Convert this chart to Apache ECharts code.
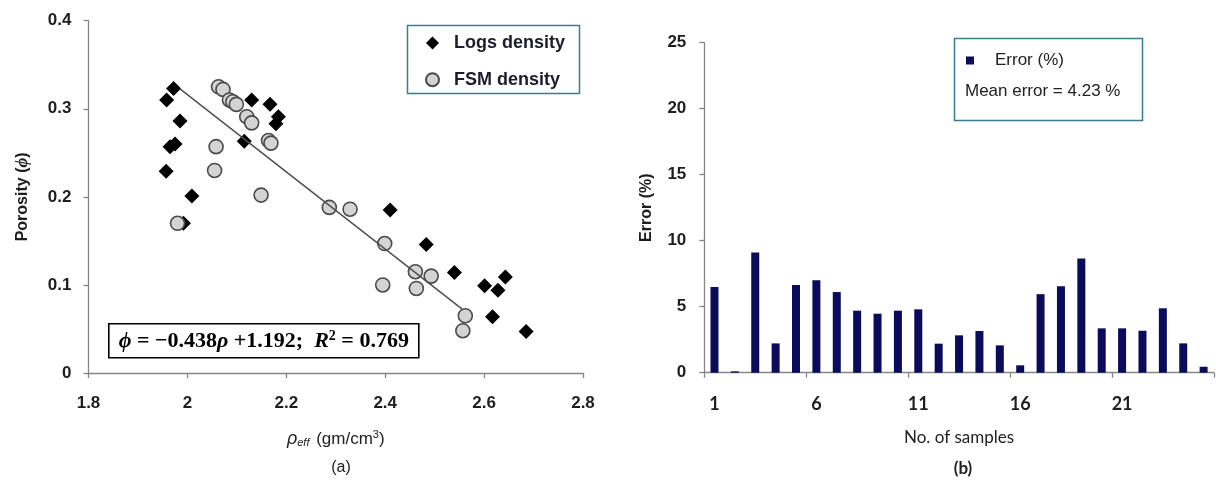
<!DOCTYPE html>
<html>
<head>
<meta charset="utf-8">
<title>Porosity vs effective density and prediction error</title>
<script src="https://cdn.jsdelivr.net/npm/echarts@6/dist/echarts.min.js"></script>
<style>
  html, body { margin: 0; padding: 0; background: #fff; }
  #chart { width: 1216px; height: 486px; }
</style>
</head>
<body>
<div id="chart"></div>
<script>
// (a) porosity against effective density
const logsRho = [1.972, 1.958, 1.985, 1.965, 1.975, 1.957, 2.009, 1.992, 2.130, 2.167, 2.184,
                 2.179, 2.115, 2.410, 2.483, 2.540, 2.601, 2.628, 2.643, 2.617, 2.685];
const logsPhi = [0.323, 0.310, 0.286, 0.257, 0.260, 0.229, 0.201, 0.170, 0.310, 0.305, 0.291,
                 0.283, 0.263, 0.185, 0.146, 0.114, 0.099, 0.094, 0.109, 0.064, 0.047];
const fsmRho = [2.063, 2.072, 2.085, 2.092, 2.099, 2.120, 2.130, 2.164, 2.169, 2.058, 2.055,
                2.149, 1.980, 2.287, 2.329, 2.399, 2.461, 2.493, 2.395, 2.463, 2.562, 2.557];
const fsmPhi = [0.325, 0.322, 0.310, 0.308, 0.305, 0.291, 0.284, 0.264, 0.261, 0.257, 0.230,
                0.202, 0.170, 0.188, 0.186, 0.147, 0.115, 0.110, 0.100, 0.096, 0.065, 0.048];

// fitted line: phi = slope * rho + intercept, drawn over the fitted density range
const fitSlope = -0.438;
const fitIntercept = 1.192;
const fitR2 = 0.769;
const fitRange = [1.985, 2.555];

const densityTicks = { min: 1.8, max: 2.8, step: 0.2 };
const porosityTicks = { min: 0, max: 0.4, step: 0.1 };

// (b) error per sample
const sampleNo = ['1','2','3','4','5','6','7','8','9','10','11','12','13',
                  '14','15','16','17','18','19','20','21','22','23','24','25'];
const errorPct = [6.50, 0.10, 9.10, 2.22, 6.64, 7.00, 6.11, 4.70, 4.47, 4.70, 4.80, 2.20, 2.83,
                  3.16, 2.07, 0.56, 5.95, 6.55, 8.65, 3.36, 3.36, 3.18, 4.88, 2.22, 0.45];
const errorTicks = { min: 0, max: 25, step: 5 };

const pair = (xs, ys) => xs.map((x, i) => [x, ys[i]]);
const fitLine = fitRange.map(r => [r, fitSlope * r + fitIntercept]);
const meanError = errorPct.reduce((a, b) => a + b, 0) / errorPct.length;

const SANS = '"Liberation Sans", Arial, sans-serif';
const CAL = 'Lato, "Liberation Sans", sans-serif';
const SERIF = '"Liberation Serif", "Times New Roman", serif';
const AXIS_GREY = '#868686';
const NAVY = '#0b0b5c';
const FRAME = '#3b7d8f';

const chart = echarts.init(document.getElementById('chart'), null, { renderer: 'canvas' });

const fmtSigned = v => (v < 0 ? '\u2212' : '') + Math.abs(v).toFixed(3);

chart.setOption({
  animation: false,
  backgroundColor: '#ffffff',
  title: [
    { text: '(a)', left: 336, top: 455, textAlign: 'center',
      textStyle: { fontFamily: SANS, fontSize: 16, fontWeight: 'normal', color: '#222' } },
    { text: '(b)', left: 958, top: 455, textAlign: 'center',
      textStyle: { fontFamily: CAL, fontSize: 17, fontWeight: 'bold', color: '#222' } }
  ],
  grid: [
    { left: 88.5, top: 20.7, width: 494.5, height: 352.3, containLabel: false },
    { left: 704.3, top: 42.7, width: 509.5, height: 330, containLabel: false }
  ],
  legend: [
    {
      data: ['Logs density', 'FSM density'],
      orient: 'vertical',
      left: 425, top: 33,
      itemWidth: 13, itemHeight: 13, itemGap: 16.7,
      padding: 0,
      textStyle: { fontFamily: SANS, fontSize: 18, fontWeight: 'bold', color: '#1c1c2a',
                   lineHeight: 20, padding: [0, 0, 0, 10] }
    },
    {
      data: [{ name: 'Error (%)', icon: 'rect' }],
      left: 966, top: 52,
      itemWidth: 8, itemHeight: 8,
      padding: 0,
      textStyle: { fontFamily: SANS, fontSize: 17, color: '#222', padding: [0, 0, 0, 16] }
    }
  ],
  xAxis: [
    {
      gridIndex: 0, type: 'value',
      min: densityTicks.min, max: densityTicks.max, interval: densityTicks.step,
      name: '{r|\u03c1}{sub|eff} (gm/cm{sup|3})',
      nameLocation: 'middle', nameGap: 56,
      nameTextStyle: {
        fontFamily: SANS, fontSize: 17, color: '#222',
        rich: {
          r: { fontFamily: SANS, fontSize: 18, fontStyle: 'italic', color: '#222' },
          sub: { fontFamily: SANS, fontSize: 11, fontStyle: 'italic', color: '#222', padding: [7, 2, 0, 0] },
          sup: { fontFamily: SANS, fontSize: 11, color: '#222', padding: [0, 0, 9, 0] }
        }
      },
      axisLine: { show: true, onZero: false, lineStyle: { color: AXIS_GREY, width: 1.3 } },
      axisTick: { show: true, inside: false, length: 5, lineStyle: { color: AXIS_GREY, width: 1.3 } },
      axisLabel: { fontFamily: SANS, fontSize: 17, fontWeight: 'bold', color: '#1e1e1e', margin: 22 },
      splitLine: { show: false }
    },
    {
      gridIndex: 1, type: 'category', data: sampleNo, boundaryGap: true,
      name: 'No. of samples', nameLocation: 'middle', nameGap: 56,
      nameTextStyle: { fontFamily: CAL, fontSize: 17, color: '#222' },
      axisLine: { show: true, lineStyle: { color: AXIS_GREY, width: 1.3 } },
      axisTick: { show: true, length: 5, alignWithLabel: false,
                  interval: i => i % 5 === 0, lineStyle: { color: AXIS_GREY, width: 1.3 } },
      axisLabel: { interval: i => i % 5 === 0, fontFamily: CAL, fontSize: 18, fontWeight: 'bold',
                   color: '#1e1e1e', margin: 22 },
      splitLine: { show: false }
    }
  ],
  yAxis: [
    {
      gridIndex: 0, type: 'value',
      min: porosityTicks.min, max: porosityTicks.max, interval: porosityTicks.step,
      name: '{b|Porosity (}{i|\u03d5}{b|)}',
      nameLocation: 'middle', nameRotate: 90, nameGap: 57,
      nameTextStyle: {
        rich: {
          b: { fontFamily: SANS, fontSize: 16, fontWeight: 'bold', color: '#1e1e1e' },
          i: { fontFamily: SERIF, fontSize: 17, fontWeight: 'bold', fontStyle: 'italic', color: '#1e1e1e' }
        }
      },
      axisLine: { show: true, lineStyle: { color: AXIS_GREY, width: 1.3 } },
      axisTick: { show: true, length: 5, lineStyle: { color: AXIS_GREY, width: 1.3 } },
      axisLabel: { fontFamily: SANS, fontSize: 17, fontWeight: 'bold', color: '#1e1e1e', margin: 17 },
      splitLine: { show: false }
    },
    {
      gridIndex: 1, type: 'value',
      min: errorTicks.min, max: errorTicks.max, interval: errorTicks.step,
      name: 'Error (%)', nameLocation: 'middle', nameRotate: 90, nameGap: 50,
      nameTextStyle: { fontFamily: SANS, fontSize: 16, fontWeight: 'bold', color: '#1e1e1e' },
      axisLine: { show: true, lineStyle: { color: AXIS_GREY, width: 1.3 } },
      axisTick: { show: true, length: 5, lineStyle: { color: AXIS_GREY, width: 1.3 } },
      axisLabel: { fontFamily: SANS, fontSize: 17, fontWeight: 'bold', color: '#1e1e1e', margin: 18 },
      splitLine: { show: false }
    }
  ],
  series: [
    {
      name: 'Logs density', type: 'scatter', xAxisIndex: 0, yAxisIndex: 0,
      symbol: 'diamond', symbolSize: 15,
      itemStyle: { color: '#000000', opacity: 1 },
      data: pair(logsRho, logsPhi), z: 2
    },
    {
      name: 'FSM density', type: 'scatter', xAxisIndex: 0, yAxisIndex: 0,
      symbol: 'circle', symbolSize: 14,
      itemStyle: { color: '#d4d4d4', borderColor: '#4a4a4a', borderWidth: 1.6, opacity: 1 },
      data: pair(fsmRho, fsmPhi), z: 3
    },
    {
      name: 'Fit', type: 'line', xAxisIndex: 0, yAxisIndex: 0,
      data: fitLine, showSymbol: false, symbol: 'none',
      lineStyle: { color: '#505050', width: 1.5 }, z: 4, silent: true
    },
    {
      name: 'Error (%)', type: 'bar', xAxisIndex: 1, yAxisIndex: 1,
      data: errorPct, barWidth: 8,
      itemStyle: { color: NAVY }
    }
  ],
  graphic: [
    {
      type: 'group', left: 108, top: 323, z: 10,
      children: [
        { type: 'rect', shape: { x: 0, y: 0, width: 310, height: 34 },
          style: { fill: '#ffffff', stroke: '#000000', lineWidth: 1.6 } },
        { type: 'text', x: 155, y: 18,
          style: {
            text: '{i|\u03d5}{n| = ' + fmtSigned(fitSlope) + '}{i|\u03c1}{n| +' + fitIntercept.toFixed(3) +
                  ';  }{i|R}{sup|2}{n| = ' + fitR2.toFixed(3) + '}',
            align: 'center', verticalAlign: 'middle',
            rich: {
              n: { fontFamily: SERIF, fontSize: 22, fontWeight: 'bold', fill: '#000' },
              i: { fontFamily: SERIF, fontSize: 22, fontWeight: 'bold', fontStyle: 'italic', fill: '#000' },
              sup: { fontFamily: SERIF, fontSize: 14, fontWeight: 'bold', fill: '#000', padding: [0, 0, 10, 0] }
            }
          } }
      ]
    },
    { type: 'rect', left: 405, top: 23, z: 1,
      shape: { width: 172, height: 68 },
      style: { fill: 'none', stroke: FRAME, lineWidth: 1.5 } },
    { type: 'rect', left: 952, top: 36, z: 1,
      shape: { width: 188, height: 82 },
      style: { fill: 'none', stroke: FRAME, lineWidth: 1.5 } },
    { type: 'text', left: 965, top: 83, z: 10,
      style: { text: 'Mean error = ' + meanError.toFixed(2) + ' %',
               font: '17px "Liberation Sans", Arial, sans-serif', fill: '#222' } }
  ]
});
</script>
</body>
</html>
